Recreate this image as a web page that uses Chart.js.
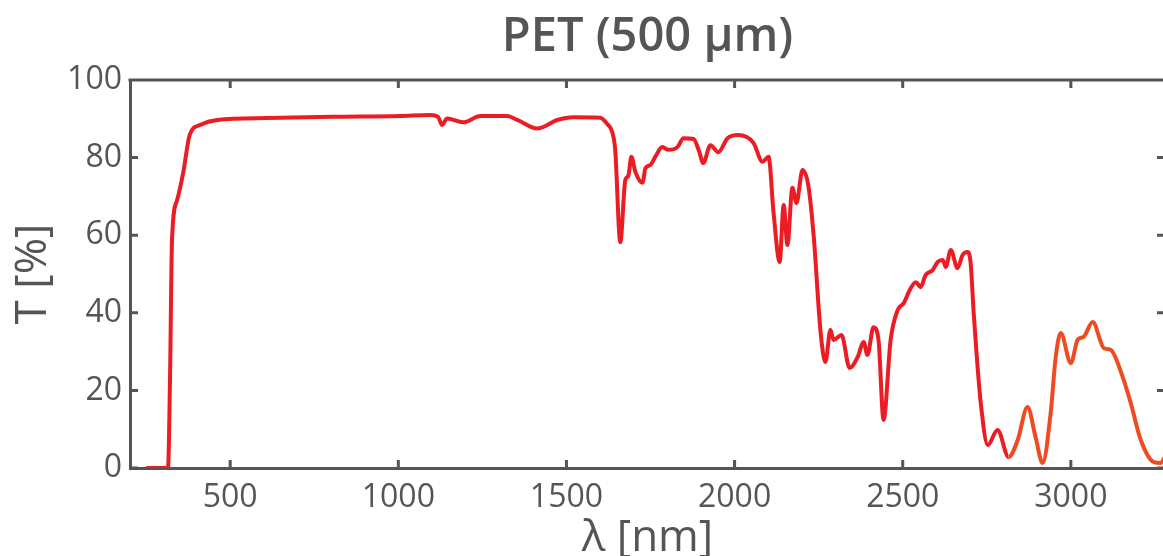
<!DOCTYPE html>
<html>
<head>
<meta charset="utf-8">
<style>
	html, body {
		margin: 0;
		padding: 0;
		background: #fff;
		overflow: hidden;
	}
	.wrapper {
		width: 1170px;
		height: 580px;
	}
</style>
</head>
<body>
<div class="wrapper">
	<canvas id="petChart"></canvas>
</div>

<script src="https://cdn.jsdelivr.net/npm/chart.js"></script>
<script>
	// wavelength [nm]
	var wavelength = [
		250, 315, 321, 327, 342, 360, 380, 410, 461, 610, 806, 1005, 1095, 1118, 1130, 1145,
		1193, 1244, 1324, 1354, 1413, 1473, 1520, 1600, 1622, 1636, 1645, 1660, 1675, 1684,
		1693, 1705, 1726, 1735, 1750, 1764, 1785, 1803, 1830, 1848, 1878, 1893, 1907, 1928,
		1952, 1979, 2011, 2056, 2083, 2101, 2116, 2134, 2146, 2157, 2172, 2184, 2202, 2220,
		2235, 2256, 2270, 2285, 2294, 2318, 2342, 2366, 2384, 2395, 2413, 2428, 2443, 2464,
		2485, 2503, 2524, 2539, 2553, 2568, 2589, 2604, 2619, 2628, 2643, 2663, 2678, 2693,
		2702, 2711, 2720, 2732, 2753, 2782, 2815, 2842, 2871, 2895, 2916, 2940, 2955, 2970,
		3000, 3020, 3038, 3065, 3098, 3119, 3154, 3178, 3208, 3247, 3268, 3280
	];

	// transmittance [%]
	var transmittance = [
		0, 0, 23, 59, 69, 76, 86, 88.4, 89.7, 90.2, 90.5, 90.7, 91, 90.5, 88.4, 90.1,
		89.1, 90.7, 90.7, 89.7, 87.5, 89.7, 90.4, 90.3, 88.6, 86.6, 82, 58.2, 74.2, 75.3,
		80.2, 76.3, 73.5, 77.3, 78.1, 80.2, 82.7, 82, 82.7, 85, 84.8, 82, 78.6, 83.2,
		81.4, 85, 85.8, 83.8, 78.9, 80.2, 65.7, 53.1, 67.8, 57.5, 72.2, 68.3, 76.8, 72.4,
		60, 34.8, 27.3, 35.6, 33, 34.3, 25.8, 28.6, 32.5, 29.1, 36.3, 33, 12.4, 33,
		40.7, 42.5, 46.4, 47.9, 46.6, 49.7, 51, 53.1, 53.6, 51.8, 56.2, 51.5, 54.9, 55.7,
		52.8, 40, 29, 16.8, 5.9, 9.8, 2.8, 7.2, 15.7, 8, 1.3, 14.2, 28.6, 34.8,
		27, 33, 33.8, 37.6, 30.9, 30.4, 23.5, 16.8, 7.2, 1.5, 1.3, 3
	];

	var xTicks = [500, 1000, 1500, 2000, 2500, 3000];
	var yTicks = [0, 20, 40, 60, 80, 100];

	var axisColor = '#555555';
	var fontFamily = "'Open Sans', sans-serif";

	var points = wavelength.map(function (w, i) {
		return { x: w, y: transmittance[i] };
	});

	// frame on top + inward tick marks on all four sides
	var framePlugin = {
		id: 'frame',
		afterDraw: function (chart) {
			var ctx = chart.ctx;
			var a = chart.chartArea;
			var xs = chart.scales.x;
			var ys = chart.scales.y;
			var len = 8;
			ctx.save();
			ctx.strokeStyle = axisColor;
			ctx.lineWidth = 3;
			ctx.beginPath();
			ctx.moveTo(a.left - 1.5, a.top);
			ctx.lineTo(a.right, a.top);
			xTicks.forEach(function (v) {
				var px = xs.getPixelForValue(v);
				ctx.moveTo(px, a.bottom);
				ctx.lineTo(px, a.bottom - len);
				ctx.moveTo(px, a.top);
				ctx.lineTo(px, a.top + len);
			});
			yTicks.forEach(function (v) {
				var py = ys.getPixelForValue(v);
				ctx.moveTo(a.left, py);
				ctx.lineTo(a.left + len, py);
				ctx.moveTo(a.right, py);
				ctx.lineTo(a.right - len, py);
			});
			ctx.stroke();
			ctx.restore();
		}
	};

	new Chart(document.getElementById('petChart'), {
		type: 'line',
		data: {
			datasets: [{
				data: points,
				borderColor: '#ec1c24',
				borderWidth: 4,
				pointRadius: 0,
				cubicInterpolationMode: 'monotone',
				fill: false,
				segment: {
					borderColor: function (ctx) {
						return ctx.p0.parsed.x >= 2800 ? '#f04a22' : '#ec1c24';
					}
				}
			}]
		},
		options: {
			responsive: true,
			maintainAspectRatio: false,
			animation: false,
			layout: {
				padding: { left: 0, right: 5, top: 0, bottom: 0 }
			},
			plugins: {
				legend: { display: false },
				tooltip: { enabled: false },
				title: {
					display: true,
					text: 'PET (500 μm)',
					color: axisColor,
					fullSize: false,
					font: { family: fontFamily, size: 47, weight: '600', lineHeight: 1 },
					padding: { top: 14, bottom: 19 }
				}
			},
			scales: {
				x: {
					type: 'linear',
					min: 202,
					max: 3280,
					afterFit: function (scale) { scale.height = 112; },
					afterBuildTicks: function (scale) {
						scale.ticks = xTicks.map(function (v) { return { value: v }; });
					},
					grid: { display: false, drawTicks: false },
					border: { display: true, color: axisColor, width: 3 },
					ticks: {
						color: axisColor,
						padding: 11,
						maxRotation: 0,
						font: { family: fontFamily, size: 32 },
						callback: function (v) { return String(v); }
					},
					title: {
						display: true,
						text: 'λ [nm]',
						color: axisColor,
						font: { family: fontFamily, size: 44, lineHeight: 1 },
						padding: { top: 0, bottom: 20 }
					}
				},
				y: {
					min: 0,
					max: 100,
					afterFit: function (scale) { scale.width = 130; },
					afterBuildTicks: function (scale) {
						scale.ticks = yTicks.map(function (v) { return { value: v }; });
					},
					grid: { display: false, drawTicks: false },
					border: { display: true, color: axisColor, width: 3 },
					ticks: {
						color: axisColor,
						padding: 8,
						font: { family: fontFamily, size: 32 },
						callback: function (v) { return String(v); }
					},
					title: {
						display: true,
						text: 'T [%]',
						color: axisColor,
						font: { family: fontFamily, size: 44, lineHeight: 1 },
						padding: { top: 11, bottom: 0 }
					}
				}
			}
		},
		plugins: [framePlugin]
	});
</script>
</body>
</html>
